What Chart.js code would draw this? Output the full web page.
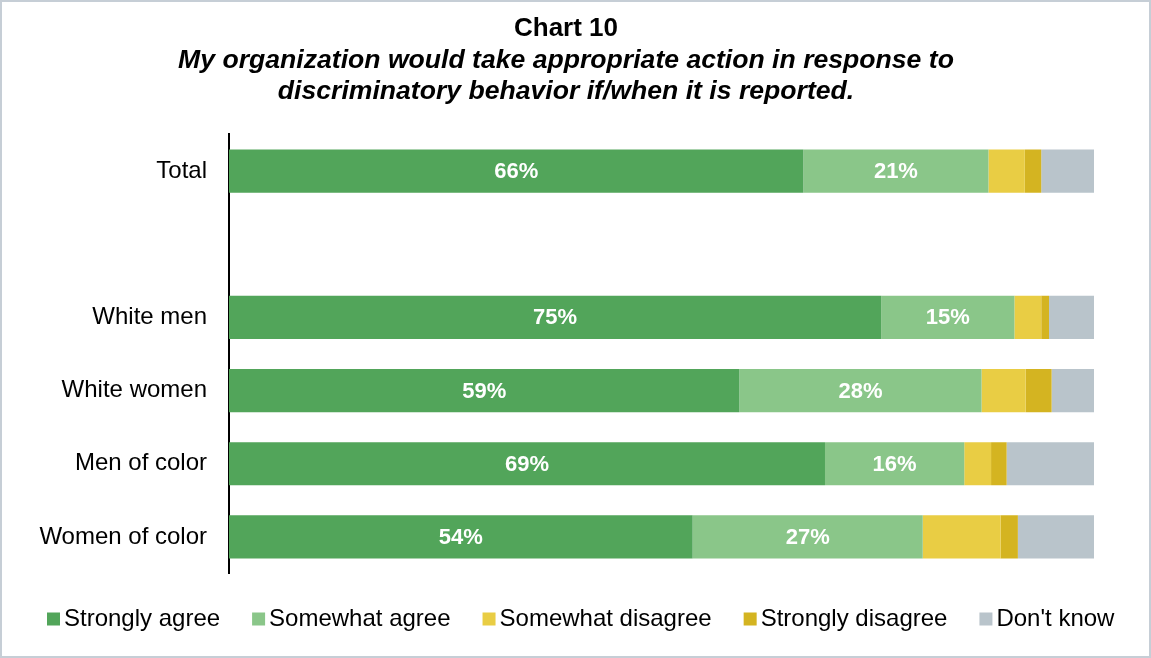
<!DOCTYPE html>
<html>
<head>
<meta charset="utf-8">
<script src="https://cdn.jsdelivr.net/npm/chart.js@4/dist/chart.umd.min.js"></script>
<style>
  html, body { margin: 0; padding: 0; background: #fff; }
  #wrap { position: relative; width: 1151px; height: 658px; }
  #frame { position: absolute; left: 0; top: 0; right: 0; bottom: 0; border: 2px solid #c6ced6; pointer-events: none; }
</style>
</head>
<body>
<div id="wrap">
  <canvas id="chart10" width="1151" height="658"></canvas>
  <div id="frame"></div>
</div>
<script>
  // categorii (randul gol separa Total de subgrupuri)
  var categories = ['Total', '', 'White men', 'White women', 'Men of color', 'Women of color'];

  // procente
  var stronglyAgree     = [66.4, null, 75.4, 59.0, 68.9, 53.6];
  var somewhatAgree     = [21.4, null, 15.4, 28.0, 16.1, 26.6];
  var somewhatDisagree  = [4.2,  null, 3.1,  5.1,  3.1,  9.0];
  var stronglyDisagree  = [1.9,  null, 0.9,  3.0,  1.8,  2.0];
  var dontKnow          = [6.1,  null, 5.2,  4.9,  10.1, 8.8];

  var seriesNames = ['Strongly agree', 'Somewhat agree', 'Somewhat disagree', 'Strongly disagree', "Don't know"];
  var seriesColors = ['#52a55a', '#8ac689', '#e9cd44', '#d4b421', '#b9c4cb'];
  var labelledSeries = [0, 1]; // doar primele doua serii au etichete

  var FONT = "'Liberation Sans', Arial, sans-serif";

  // plugin pentru etichetele albe din bare
  var barLabels = {
    id: 'barLabels',
    afterDatasetsDraw: function (chart) {
      var ctx = chart.ctx;
      ctx.save();
      ctx.fillStyle = '#ffffff';
      ctx.font = 'bold 22px ' + FONT;
      ctx.textAlign = 'center';
      ctx.textBaseline = 'middle';
      labelledSeries.forEach(function (di) {
        var meta = chart.getDatasetMeta(di);
        meta.data.forEach(function (bar, i) {
          var v = chart.data.datasets[di].data[i];
          if (v == null) return;
          var p = bar.getProps(['x', 'base', 'y'], true);
          ctx.fillText(Math.round(v) + '%', (p.x + p.base) / 2, p.y + 1);
        });
      });
      ctx.restore();
    }
  };

  // legenda desenata manual: patrat mic lipit de text, ca in original
  var bottomLegend = {
    id: 'bottomLegend',
    afterDraw: function (chart) {
      var ctx = chart.ctx;
      var x = 47, cy = 619;
      ctx.save();
      ctx.font = '24px ' + FONT;
      ctx.textBaseline = 'middle';
      ctx.textAlign = 'left';
      chart.data.datasets.forEach(function (ds) {
        ctx.fillStyle = ds.backgroundColor;
        ctx.fillRect(x, cy - 6.5, 13, 13);
        ctx.fillStyle = '#000000';
        ctx.fillText(ds.label, x + 17, cy);
        x += 17 + ctx.measureText(ds.label).width + 32;
      });
      ctx.restore();
    }
  };

  var allSeries = [stronglyAgree, somewhatAgree, somewhatDisagree, stronglyDisagree, dontKnow];

  new Chart(document.getElementById('chart10').getContext('2d'), {
    type: 'bar',
    data: {
      labels: categories,
      datasets: allSeries.map(function (vals, i) {
        return {
          label: seriesNames[i],
          data: vals,
          backgroundColor: seriesColors[i],
          borderWidth: 0,
          categoryPercentage: 1,
          barPercentage: 0.59
        };
      })
    },
    options: {
      indexAxis: 'y',
      responsive: false,
      animation: false,
      layout: { padding: { left: 38, right: 57, top: 13, bottom: 84.5 } },
      scales: {
        x: {
          stacked: true,
          min: 0,
          max: 100,
          display: false
        },
        y: {
          stacked: true,
          grid: { display: false, drawTicks: false },
          border: { display: true, color: '#000000', width: 2 },
          ticks: { color: '#000000', padding: 22, font: { family: FONT, size: 24 } },
          afterFit: function (s) { s.width = 191; }
        }
      },
      plugins: {
        title: {
          display: true,
          text: 'Chart 10',
          color: '#000000',
          font: { family: FONT, size: 26, weight: 'bold', lineHeight: 1.2 },
          padding: { top: 0, bottom: 1 }
        },
        subtitle: {
          display: true,
          text: ['My organization would take appropriate action in response to',
                 'discriminatory behavior if/when it is reported.'],
          color: '#000000',
          font: { family: FONT, size: 26.6, weight: 'bold', style: 'italic', lineHeight: 1.165 },
          padding: { top: 0, bottom: 27.3 }
        },
        legend: { display: false },
        tooltip: { enabled: false }
      }
    },
    plugins: [barLabels, bottomLegend]
  });
</script>
</body>
</html>
